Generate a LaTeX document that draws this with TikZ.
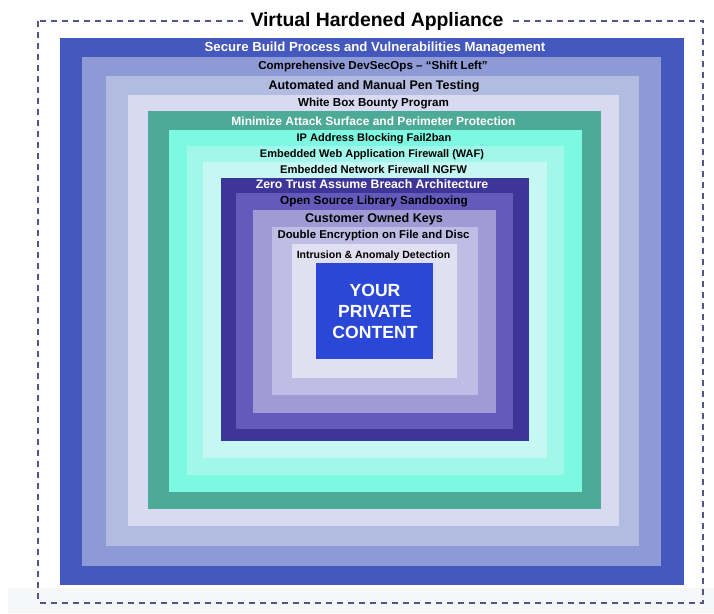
\documentclass[tikz,border=0pt]{standalone}
\usepackage{fontspec}
\setmainfont{Liberation Sans}
\usetikzlibrary{fit}

% layer fills, outermost to innermost
\definecolor{cSecure}{HTML}{4458BD}
\definecolor{cDevSec}{HTML}{8E9AD6}
\definecolor{cPenTest}{HTML}{B2BBE0}
\definecolor{cBounty}{HTML}{D7DAF0}
\definecolor{cSurface}{HTML}{4DAA96}
\definecolor{cFailban}{HTML}{7EF9E1}
\definecolor{cWaf}{HTML}{A0F7EA}
\definecolor{cNgfw}{HTML}{C5F8F3}
\definecolor{cZero}{HTML}{3D3598}
\definecolor{cSandbox}{HTML}{645ABB}
\definecolor{cKeys}{HTML}{A09BD5}
\definecolor{cCrypt}{HTML}{BFBCE5}
\definecolor{cIds}{HTML}{E1E0F0}
\definecolor{cCore}{HTML}{2B47D8}
\definecolor{cFrame}{HTML}{50558A}
\definecolor{cBand}{HTML}{F6F7F8}

\newcommand\lblfont[1]{\fontsize{#1}{#1}\selectfont\bfseries}

\tikzset{
  layer/.style={inner sep=0pt, outer sep=0pt, draw=none},
  lbl/.style={anchor=base, inner sep=0pt},
  frame/.style={draw=cFrame, line width=1.8pt, dash pattern=on 6pt off 5pt},
}

\begin{document}
\begin{tikzpicture}[x=1pt, y=-1pt]
\useasboundingbox (0,0) rectangle (714,613);

% light band along the bottom
\fill[cBand] (8,588) rectangle (714,613);

% concentric protection layers
\node[layer, fill=cSecure,  fit={(60,37.5) (684,585)}] (secure) {};
\node[layer, fill=cDevSec,  fit={(82,57) (661,566)}] (devsec) {};
\node[layer, fill=cPenTest, fit={(106,76) (639,546)}] (pentest) {};
\node[layer, fill=cBounty,  fit={(128,95) (619,526)}] (bounty) {};
\node[layer, fill=cSurface, fit={(148,111) (601,509)}] (surface) {};
\node[layer, fill=cFailban, fit={(169,130) (582,492)}] (failban) {};
\node[layer, fill=cWaf,     fit={(187,145.5) (564,475)}] (waf) {};
\node[layer, fill=cNgfw,    fit={(203,162) (547,458)}] (ngfw) {};
\node[layer, fill=cZero,    fit={(221,177.5) (529,441)}] (zero) {};
\node[layer, fill=cSandbox, fit={(236,193) (513,429)}] (sandbox) {};
\node[layer, fill=cKeys,    fit={(253,210) (496,413)}] (keys) {};
\node[layer, fill=cCrypt,   fit={(272,227) (478,395)}] (crypt) {};
\node[layer, fill=cIds,     fit={(292,244) (457,378)}] (ids) {};
\node[layer, fill=cCore,    fit={(316,263) (433,359)}] (core) {};

% layer captions
\node[lbl, text=white, font=\lblfont{13.2}] (secure-t)  at (375,51)    {Secure Build Process and Vulnerabilities Management};
\node[lbl, text=black, font=\lblfont{11.6}] (devsec-t)  at (373,69.7)  {Comprehensive DevSecOps – “Shift Left”};
\node[lbl, text=black, font=\lblfont{12.5}] (pentest-t) at (374,89)    {Automated and Manual Pen Testing};
\node[lbl, text=black, font=\lblfont{11.6}] (bounty-t)  at (373.5,106.3) {White Box Bounty Program};
\node[lbl, text=white, font=\lblfont{12}]   (surface-t) at (373.5,125.7) {Minimize Attack Surface and Perimeter Protection};
\node[lbl, text=black, font=\lblfont{11}]   (failban-t) at (374,141)   {IP Address Blocking Fail2ban};
\node[lbl, text=black, font=\lblfont{11}]   (waf-t)     at (372,157.3) {Embedded Web Application Firewall (WAF)};
\node[lbl, text=black, font=\lblfont{11.2}] (ngfw-t)    at (373.5,173.3) {Embedded Network Firewall NGFW};
\node[lbl, text=white, font=\lblfont{12.3}] (zero-t)    at (372,188.7) {Zero Trust Assume Breach Architecture};
\node[lbl, text=black, font=\lblfont{11.8}] (sandbox-t) at (374,204.3) {Open Source Library Sandboxing};
\node[lbl, text=black, font=\lblfont{12.6}] (keys-t)    at (374,222.7) {Customer Owned Keys};
\node[lbl, text=black, font=\lblfont{11.4}] (crypt-t)   at (373.5,238.7) {Double Encryption on File and Disc};
\node[lbl, text=black, font=\lblfont{10.5}] (ids-t)     at (373.5,258.3) {Intrusion \& Anomaly Detection};

\node[inner sep=0pt, align=center, text=white, font=\fontsize{17.6}{21}\selectfont\bfseries]
  (core-t) at (375,311) {YOUR\\PRIVATE\\CONTENT};

% dashed appliance boundary with its title
\draw[frame] (38.3,21) rectangle (703.3,602.7);
\node[anchor=base, fill=white, inner xsep=8pt, inner ysep=2pt, font=\lblfont{19.4}]
  (title) at (377,26.7) {Virtual Hardened Appliance};
\end{tikzpicture}
\end{document}
